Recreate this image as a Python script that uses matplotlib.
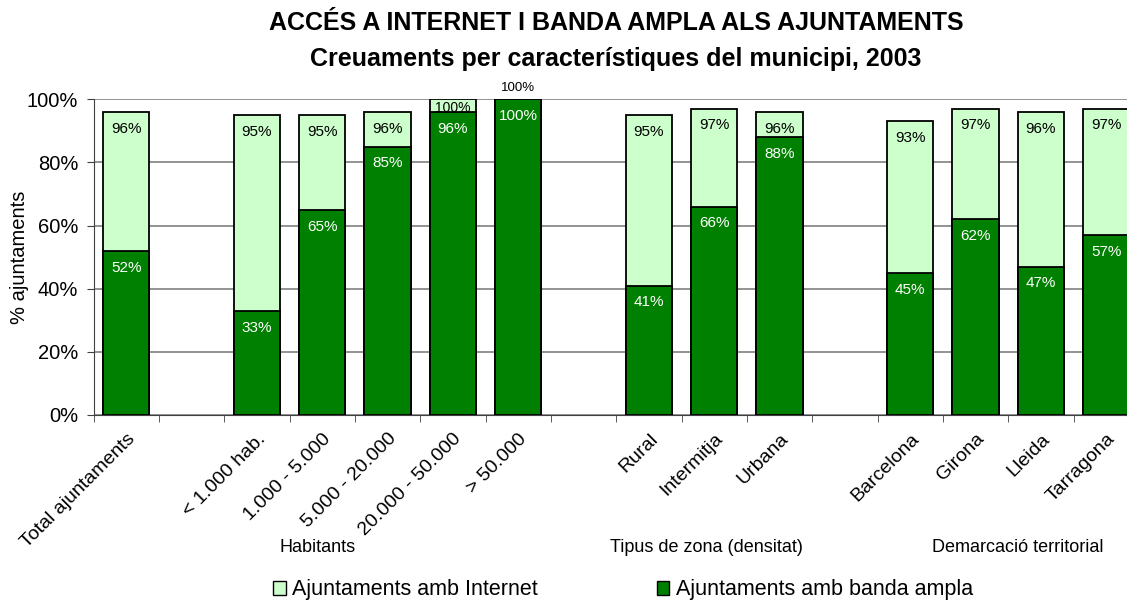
import matplotlib
matplotlib.use('Agg')
import matplotlib.pyplot as plt
from matplotlib.patches import Patch

plt.rcParams['font.family'] = ['Liberation Sans', 'DejaVu Sans']

# Data
groups = [
    ['Total ajuntaments'],
    ['< 1.000 hab.', '1.000 - 5.000', '5.000 - 20.000', '20.000 - 50.000', '> 50.000'],
    ['Rural', 'Intermitja', 'Urbana'],
    ['Barcelona', 'Girona', 'Lleida', 'Tarragona'],
]
group_titles = ['', 'Habitants', 'Tipus de zona (densitat)', 'Demarcació territorial']
internet = [96, 95, 95, 96, 100, 100, 95, 97, 96, 93, 97, 96, 97]
banda_ampla = [52, 33, 65, 85, 96, 100, 41, 66, 88, 45, 62, 47, 57]

# slot positions, one empty slot between groups
positions = []
labels = []
slot = 0
for g in groups:
    for name in g:
        positions.append(slot)
        labels.append(name)
        slot += 1
    slot += 1
n_slots = slot - 1

light = '#CCFFCC'
dark = '#008000'

fig = plt.figure(figsize=(11.27, 6.01), dpi=100)
ax = fig.add_axes([93.5 / 1127, 1 - 415 / 601, (1139 - 93.5) / 1127, (415 - 99.3) / 601])

w = 0.71
ax.bar(positions, internet, width=w, color=light, edgecolor='black', linewidth=1.3, zorder=3)
ax.bar(positions, banda_ampla, width=w, color=dark, edgecolor='black', linewidth=1.3, zorder=4)

ax.set_xlim(-0.5, n_slots - 0.5)
ax.set_ylim(0, 100)
ax.set_yticks(range(0, 101, 20))
ax.set_yticklabels([f'{v}%' for v in range(0, 101, 20)], fontsize=14.5)
ax.yaxis.grid(True, color='#808080', linewidth=1.2, zorder=0)
ax.set_axisbelow(True)

# tick marks between slots, labels under bars
ax.set_xticks([p - 0.5 for p in range(n_slots + 1)], minor=True)
ax.set_xticks(positions)
ax.set_xticklabels(labels, rotation=45, ha='right', rotation_mode='anchor', fontsize=14)
ax.tick_params(axis='x', which='major', length=0, pad=11)
ax.tick_params(axis='x', which='minor', length=5, color='#404040')
ax.tick_params(axis='y', length=5, color='#404040', pad=6)

for s in ['top', 'right']:
    ax.spines[s].set_visible(False)
ax.spines['left'].set_color('#404040')
ax.spines['bottom'].set_color('#404040')

ax.set_ylabel('% ajuntaments', fontsize=14.5)
ax.yaxis.set_label_coords(-64 / 1045.5, 0.5)

# value labels
for x, vi, vb in zip(positions, internet, banda_ampla):
    if vi >= 99.5 and vb >= 99.5:
        ax.annotate(f'{vi}%', (x, vi), xytext=(0, 4), textcoords='offset points',
                    ha='center', va='bottom', fontsize=9.5, clip_on=False)
    elif vi >= 99.5:
        ax.annotate(f'{vi}%', (x, vi), xytext=(0, -1), textcoords='offset points',
                    ha='center', va='top', fontsize=10, zorder=5)
    else:
        ax.annotate(f'{vi}%', (x, vi), xytext=(0, -7), textcoords='offset points',
                    ha='center', va='top', fontsize=11, zorder=5)
    ax.annotate(f'{vb}%', (x, vb), xytext=(0, -7), textcoords='offset points',
                ha='center', va='top', fontsize=11, color='white', zorder=5)

# group titles under tick labels
group_x = [None, 2.93, 8.88, 13.64]
for gx, t in zip(group_x, group_titles):
    if t:
        ax.text(gx, -42, t, ha='center', va='center', fontsize=13, clip_on=False)

fig.text(616 / 1127, 1 - 23 / 601, 'ACCÉS A INTERNET I BANDA AMPLA ALS AJUNTAMENTS',
         ha='center', va='center', fontsize=18, fontweight='bold')
fig.text(616 / 1127, 1 - 59 / 601, 'Creuaments per característiques del municipi, 2003',
         ha='center', va='center', fontsize=18, fontweight='bold')

handles = [Patch(facecolor=light, edgecolor='black', label='Ajuntaments amb Internet'),
           Patch(facecolor=dark, edgecolor='black', label='Ajuntaments amb banda ampla')]
fig.legend(handles=handles, loc='center', bbox_to_anchor=(623 / 1127, 1 - 590 / 601), ncol=2,
           frameon=False, fontsize=15.5, handlelength=0.6, handleheight=0.6, handletextpad=0.3,
           columnspacing=5.5, borderpad=0)

fig.savefig('out.png', dpi=100)
